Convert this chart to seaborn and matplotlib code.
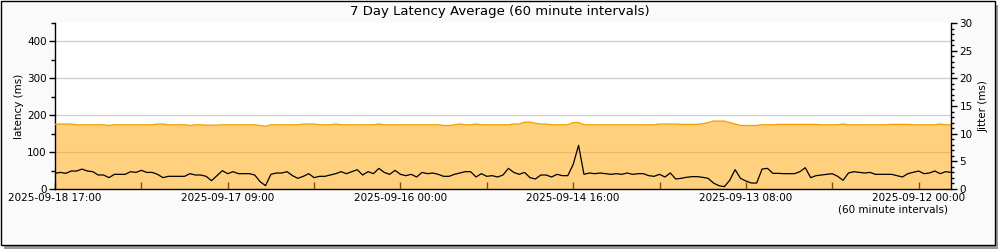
import numpy as np
import pandas as pd
import matplotlib
matplotlib.use("Agg")
import matplotlib.pyplot as plt
from matplotlib.patches import Rectangle
from matplotlib.ticker import MultipleLocator, FixedLocator
import seaborn as sns

# ---- data (hourly, newest on the left) ----
latency_ms = [175, 176, 176, 176, 174, 174, 174, 174, 174, 174, 172, 174, 174, 174, 174, 174, 174, 174, 174, 176, 176,
              174, 174, 174, 174, 172, 174, 174,
              173, 173, 173, 174, 174, 174, 174, 174, 174, 174, 172, 170, 174, 174, 174, 174, 174, 174, 176, 176, 176,
              174, 174, 174, 176, 174, 174, 174,
              174, 174, 174, 174, 176, 174, 174, 174, 174, 174, 174, 174, 174, 174, 174, 174, 172, 172, 174, 176, 174,
              174, 176, 174, 174, 174, 174,
              174, 174, 176, 176, 181, 181, 178, 176, 176, 174, 174, 174, 174, 180, 180, 174, 174, 174, 174, 174, 174,
              174, 174, 174, 174, 174, 174, 174,
              174, 176, 176, 176, 176, 175, 175, 175, 175, 177, 180, 184, 184, 184, 180, 176, 172, 172, 172, 172, 174,
              174, 174, 175, 175, 175, 175,
              175, 175, 175, 175, 174, 174, 174, 174, 176, 174, 174, 174, 174, 174, 174, 174, 174, 175, 175, 175, 175,
              174, 174, 174, 174, 174, 176, 174, 174]

jitter_ms = [2.83, 3.0, 2.83, 3.25, 3.25, 3.6, 3.25, 3.13, 2.53, 2.53, 2.05, 2.65, 2.65, 2.65, 3.13, 3.0, 3.37, 3.0,
             3.0, 2.65, 2.05, 2.29, 2.29, 2.29, 2.29, 2.77, 2.53, 2.53,
             2.29, 1.5, 2.41, 3.31, 2.77, 3.13, 2.77, 2.77, 2.77, 2.53, 1.33, 0.6, 2.65, 2.89, 2.89, 3.13, 2.41, 1.93,
             2.29, 2.77, 2.05, 2.29, 2.29, 2.53, 2.77, 3.13, 2.77, 3.13,
             3.49, 2.53, 3.13, 2.77, 3.73, 3.0, 2.65, 3.37, 2.65, 2.41, 2.65, 2.17, 3.0, 2.77, 2.89, 2.65, 2.29, 2.29,
             2.65, 2.89, 3.13, 3.13, 2.17, 2.77, 2.29, 2.41, 2.17,
             2.53, 3.73, 3.0, 2.65, 3.0, 2.05, 1.81, 2.53, 2.53, 2.17, 2.65, 2.41, 2.41, 4.43, 7.9, 2.65, 2.89, 2.77,
             2.89, 2.77, 2.65, 2.77, 2.65, 2.89, 2.65, 2.77, 2.77, 2.41,
             2.29, 2.65, 2.17, 2.89, 1.81, 1.93, 2.11, 2.23, 2.23, 2.11, 1.93, 1.08, 0.6, 0.42, 1.57, 3.49, 1.93, 1.45,
             1.08, 1.08, 3.61, 3.73, 2.83, 2.83, 2.77, 2.77, 2.77,
             3.13, 3.85, 2.05, 2.41, 2.53, 2.65, 2.77, 2.29, 1.57, 2.89, 3.13, 3.0, 2.89, 3.0, 2.65, 2.65, 2.65, 2.65,
             2.41, 2.17, 2.77, 3.0, 3.25, 2.77, 2.89, 3.25, 2.77, 3.13, 3.0]

tick_hours = [0, 32, 64, 96, 128, 160]
tick_labels = ["2025-09-18 17:00", "2025-09-17 09:00", "2025-09-16 00:00",
               "2025-09-14 16:00", "2025-09-13 08:00", "2025-09-12 00:00"]
minor_hours = [16, 48, 80, 112, 144]

hours = np.arange(len(latency_ms))
df = pd.DataFrame({"hour": hours, "latency": latency_ms, "jitter": jitter_ms})

# ---- figure ----
plt.rcParams["font.family"] = ["DejaVu Sans"]
fig = plt.figure(figsize=(10, 2.5), dpi=100, facecolor="white")

# frame with drop shadow
fig.patches.append(Rectangle((4 / 1000, 1 / 250), 994 / 1000, 244 / 250, transform=fig.transFigure,
                             facecolor="#9a9a9a", edgecolor="none", zorder=-3))
fig.patches.append(Rectangle((0.5 / 1000, 5 / 250), 994 / 1000, 244.5 / 250, transform=fig.transFigure,
                             facecolor="#fafafa", edgecolor="black", linewidth=1, zorder=-2))

ax = fig.add_axes([0.055, 0.244, 0.896, 0.664])
ax.set_facecolor("white")
ax.set_axisbelow(True)

ax.fill_between(df["hour"], 0, df["latency"], color="#ffa500", alpha=0.5, linewidth=0, zorder=2)
sns.lineplot(data=df, x="hour", y="latency", ax=ax, color="#f5a000", linewidth=1.0, zorder=3)

ax.set_xlim(0, len(hours) - 1)
ax.set_ylim(0, 450)
ax.yaxis.set_major_locator(FixedLocator([0, 100, 200, 300, 400]))
ax.yaxis.set_minor_locator(FixedLocator([50, 150, 250, 350, 450]))
ax.grid(axis="y", which="major", color="#cccccc", linewidth=0.9)
ax.set_xticks(tick_hours)
ax.set_xticklabels(tick_labels)
ax.xaxis.set_minor_locator(FixedLocator(minor_hours))
ax.tick_params(axis="x", which="major", direction="in", length=5, width=1, labelsize=7.5, pad=3)
ax.tick_params(axis="x", which="minor", direction="in", length=5, width=1)
ax.tick_params(axis="y", which="major", direction="out", length=4, width=1, labelsize=7.5, pad=2)
ax.tick_params(axis="y", which="minor", direction="out", length=3, width=1)
ax.set_xlabel("")
ax.set_ylabel("latency (ms)", fontsize=7.5, labelpad=2)
for s in ["top", "right"]:
    ax.spines[s].set_visible(False)
for s in ["left", "bottom"]:
    ax.spines[s].set_linewidth(1)

ax2 = ax.twinx()
sns.lineplot(data=df, x="hour", y="jitter", ax=ax2, color="black", linewidth=0.9, zorder=4)
ax2.set_ylim(0, 30)
ax2.yaxis.set_major_locator(MultipleLocator(5))
ax2.yaxis.set_minor_locator(MultipleLocator(1))
ax2.tick_params(axis="y", which="major", direction="out", length=4, width=1, labelsize=7.5, pad=2)
ax2.tick_params(axis="y", which="minor", direction="out", length=2.5, width=1)
ax2.set_ylabel("Jitter (ms)", fontsize=7.5, labelpad=4)
ax2.set_xlabel("")
for s in ["top", "left", "bottom"]:
    ax2.spines[s].set_visible(False)
ax2.spines["right"].set_linewidth(1)

fig.text(0.5, 1 - 11 / 250, "7 Day Latency Average (60 minute intervals)", ha="center", va="center", fontsize=9.5)
fig.text(0.948, 1 - 209 / 250, "(60 minute intervals)", ha="right", va="center", fontsize=7.5)

fig.savefig("out.png", dpi=100, facecolor=fig.get_facecolor())
